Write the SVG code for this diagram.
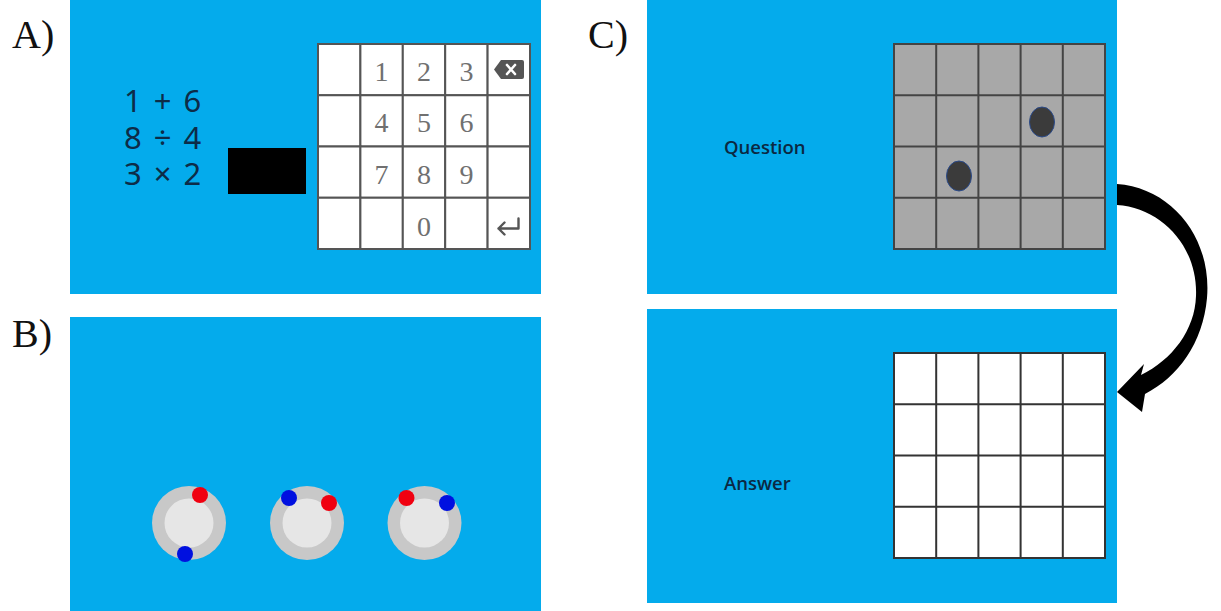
<svg xmlns="http://www.w3.org/2000/svg" width="1221" height="611" viewBox="0 0 1221 611">
<defs>
<style>
.panel{fill:#04abec}
.lbl{font-family:"Liberation Serif",serif;font-size:40px;fill:#111}
.eq{font-family:"Noto Sans",sans-serif;font-size:31px;fill:#0d2c48;word-spacing:4px}
.key{font-family:"Liberation Serif",serif;font-size:28px;fill:#707070;text-anchor:middle}
.cell{fill:#fff;stroke:#555;stroke-width:2}
.gcell{fill:#a8a8a8;stroke:#444;stroke-width:2}
.wcell{fill:#fff;stroke:#333;stroke-width:2}
.word{font-family:"Open Sans","Noto Sans",sans-serif;font-size:18.5px;font-weight:600;fill:#0b2842}
.ring{fill:#c8c8c8}
.disk{fill:#e6e6e6}
.red{fill:#f00010}
.blue{fill:#0010e0}
.tok{fill:#3b3b3b;stroke:#2a4a8a;stroke-width:1}
</style>
</defs>
<rect width="1221" height="611" fill="#fff"/>

<g id="panelA">
<text class="lbl" x="12" y="48">A)</text>
<rect class="panel" x="70" y="0" width="471" height="294"/>
<text class="eq"><tspan x="124" y="112">1 + 6</tspan><tspan x="124" y="149">8 ÷ 4</tspan><tspan x="124" y="185">3 × 2</tspan></text>
<rect x="228" y="148" width="78" height="46" fill="#000"/>
<g id="keypad">
<rect class="cell" x="318" y="44" width="42.4" height="51.25"/>
<rect class="cell" x="360.4" y="44" width="42.4" height="51.25"/>
<rect class="cell" x="402.8" y="44" width="42.4" height="51.25"/>
<rect class="cell" x="445.2" y="44" width="42.4" height="51.25"/>
<rect class="cell" x="487.6" y="44" width="42.4" height="51.25"/>
<rect class="cell" x="318" y="95.25" width="42.4" height="51.25"/>
<rect class="cell" x="360.4" y="95.25" width="42.4" height="51.25"/>
<rect class="cell" x="402.8" y="95.25" width="42.4" height="51.25"/>
<rect class="cell" x="445.2" y="95.25" width="42.4" height="51.25"/>
<rect class="cell" x="487.6" y="95.25" width="42.4" height="51.25"/>
<rect class="cell" x="318" y="146.5" width="42.4" height="51.25"/>
<rect class="cell" x="360.4" y="146.5" width="42.4" height="51.25"/>
<rect class="cell" x="402.8" y="146.5" width="42.4" height="51.25"/>
<rect class="cell" x="445.2" y="146.5" width="42.4" height="51.25"/>
<rect class="cell" x="487.6" y="146.5" width="42.4" height="51.25"/>
<rect class="cell" x="318" y="197.75" width="42.4" height="51.25"/>
<rect class="cell" x="360.4" y="197.75" width="42.4" height="51.25"/>
<rect class="cell" x="402.8" y="197.75" width="42.4" height="51.25"/>
<rect class="cell" x="445.2" y="197.75" width="42.4" height="51.25"/>
<rect class="cell" x="487.6" y="197.75" width="42.4" height="51.25"/>
<text class="key" x="381.6" y="81">1</text>
<text class="key" x="424" y="81">2</text>
<text class="key" x="466.4" y="81">3</text>
<text class="key" x="381.6" y="132">4</text>
<text class="key" x="424" y="132">5</text>
<text class="key" x="466.4" y="132">6</text>
<text class="key" x="381.6" y="184">7</text>
<text class="key" x="424" y="184">8</text>
<text class="key" x="466.4" y="184">9</text>
<text class="key" x="424" y="236">0</text>
<path d="M494,69.5 L501,60 L522,60 Q524,60 524,62 L524,77 Q524,79 522,79 L501,79 Z" fill="#555"/>
<path d="M507,65 L515,74 M515,65 L507,74" stroke="#fff" stroke-width="2.6" stroke-linecap="round"/>
<path d="M518.5,218.5 V228.5 H498.5 M504.5,222.5 L498.5,228.5 L504.5,234.5" fill="none" stroke="#555" stroke-width="2.4" stroke-linecap="round" stroke-linejoin="round"/>
</g>
</g>

<g id="panelB">
<text class="lbl" x="12" y="347">B)</text>
<rect class="panel" x="70" y="317" width="471" height="294"/>
<g id="dial1">
<circle class="ring" cx="189" cy="523" r="37"/>
<circle class="disk" cx="189" cy="523" r="24.5"/>
<circle class="red" cx="200" cy="495" r="8"/>
<circle class="blue" cx="185" cy="554" r="8"/>
</g>
<g id="dial2">
<circle class="ring" cx="307" cy="523" r="37"/>
<circle class="disk" cx="307" cy="523" r="24.5"/>
<circle class="blue" cx="289" cy="498" r="8"/>
<circle class="red" cx="329" cy="503" r="8"/>
</g>
<g id="dial3">
<circle class="ring" cx="424.5" cy="523" r="37"/>
<circle class="disk" cx="424.5" cy="523" r="24.5"/>
<circle class="red" cx="406.5" cy="498" r="8"/>
<circle class="blue" cx="447" cy="503" r="8"/>
</g>
</g>

<g id="panelC">
<text class="lbl" x="588" y="48">C)</text>
<g id="question">
<rect class="panel" x="647" y="0" width="470" height="294"/>
<text class="word" x="724" y="154">Question</text>
<path class="gcell" d="M894,44 H1105 V249 H894 Z"/>
<path d="M936.2,44 V249 M978.4,44 V249 M1020.6,44 V249 M1062.8,44 V249 M894,95.25 H1105 M894,146.5 H1105 M894,197.75 H1105" stroke="#444" stroke-width="2" fill="none"/>
<ellipse class="tok" cx="1042" cy="122" rx="12.5" ry="15"/>
<ellipse class="tok" cx="959" cy="176" rx="12.5" ry="15"/>
</g>
<g id="answer">
<rect class="panel" x="647" y="309" width="470" height="294"/>
<text class="word" x="724" y="490">Answer</text>
<path class="wcell" d="M894,353 H1105 V558 H894 Z"/>
<path d="M936.2,353 V558 M978.4,353 V558 M1020.6,353 V558 M1062.8,353 V558 M894,404.25 H1105 M894,455.5 H1105 M894,506.75 H1105" stroke="#333" stroke-width="2" fill="none"/>
</g>
</g>

<g id="connectors">
<path d="M1117,184 C1172,188 1212,238 1207,298 C1203,343 1178,377 1145,394 L1142,412 L1117,392 L1144,364 L1141,375 C1172,360 1195,330 1196,296 C1198,247 1162,208 1117,205 Z" fill="#000"/>
</g>
</svg>
